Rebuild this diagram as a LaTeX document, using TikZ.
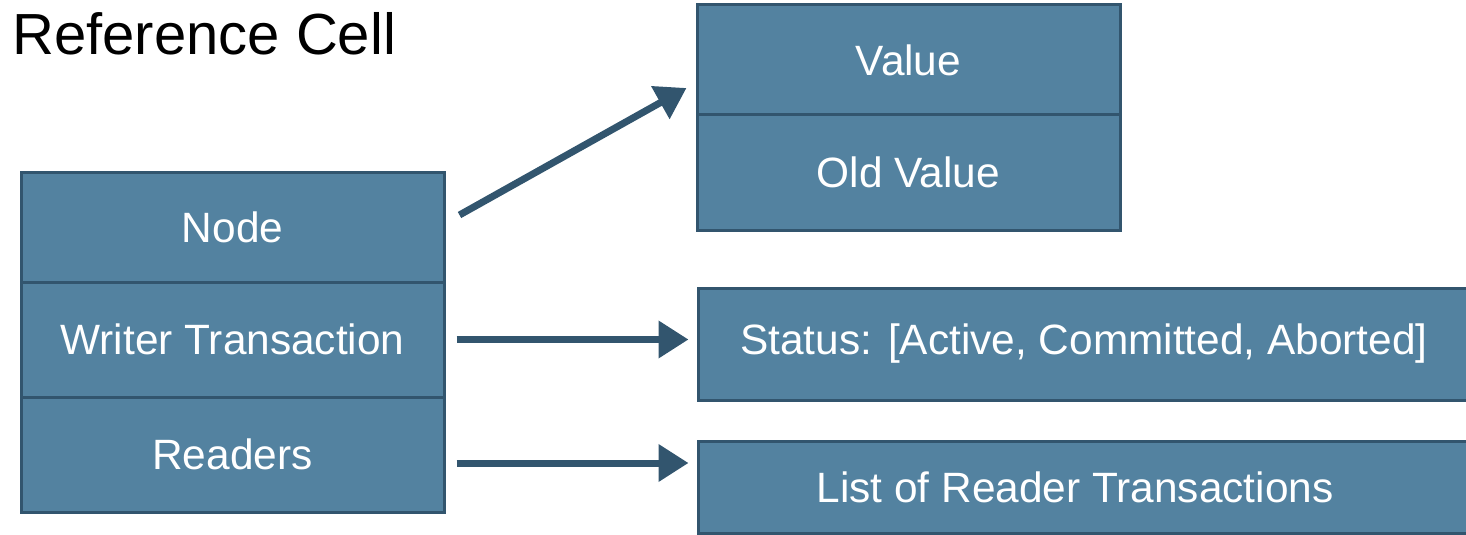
\documentclass[tikz,border=0pt]{standalone}
\usepackage{fontspec}
\setmainfont{Liberation Sans}
\usetikzlibrary{arrows.meta}
\definecolor{cellfill}{RGB}{83,130,160}
\definecolor{celldraw}{RGB}{50,85,110}
\begin{document}
\begin{tikzpicture}[x=0.5pt,y=-0.5pt]
\tikzstyle{cell}=[rectangle,draw=celldraw,fill=cellfill,line width=1.5pt,text=white,font=\fontsize{21.2}{25}\selectfont,inner sep=0pt]
\tikzstyle{link}=[draw=celldraw,line width=3.5pt,-{Triangle[length=15pt,width=18pt]}]
\useasboundingbox (0,0) rectangle (1466,535);
\node[anchor=base west,inner sep=0pt,font=\fontsize{29}{35}\selectfont] (title) at (12,55) {Reference Cell};
\node[cell,minimum width=211.5pt,minimum height=55pt] (node) at (232.5,227) {Node};
\node[cell,minimum width=211.5pt,minimum height=57.5pt] (writer) at (232.5,339.5) {Writer Transaction};
\node[cell,minimum width=211.5pt,minimum height=57.5pt] (readers) at (232.5,454.5) {Readers};
\node[cell,minimum width=211.5pt,minimum height=55pt] (value) at (908.5,60) {Value};
\node[cell,minimum width=211.5pt,minimum height=57.5pt] (oldvalue) at (908.5,172.5) {Old Value};
\node[cell,minimum width=386pt,minimum height=56pt] (status) at (1084,344) {Status: [Active, Committed, Aborted]};
\node[cell,minimum width=386pt,minimum height=46pt] (list) at (1084,487) {\hspace*{-9pt}List of Reader Transactions};
\draw[link] ([shift={(14,-12)}]node.east) -- ([shift={(-9,28)}]value.west);
\draw[link,shorten <=5.5pt,shorten >=4pt] (writer.east) -- (writer.east -| status.west);
\draw[link,shorten <=5.5pt,shorten >=4pt] ([yshift=-4.25pt]readers.east) -- ([yshift=-4.25pt]readers.east -| list.west);
\end{tikzpicture}
\end{document}
